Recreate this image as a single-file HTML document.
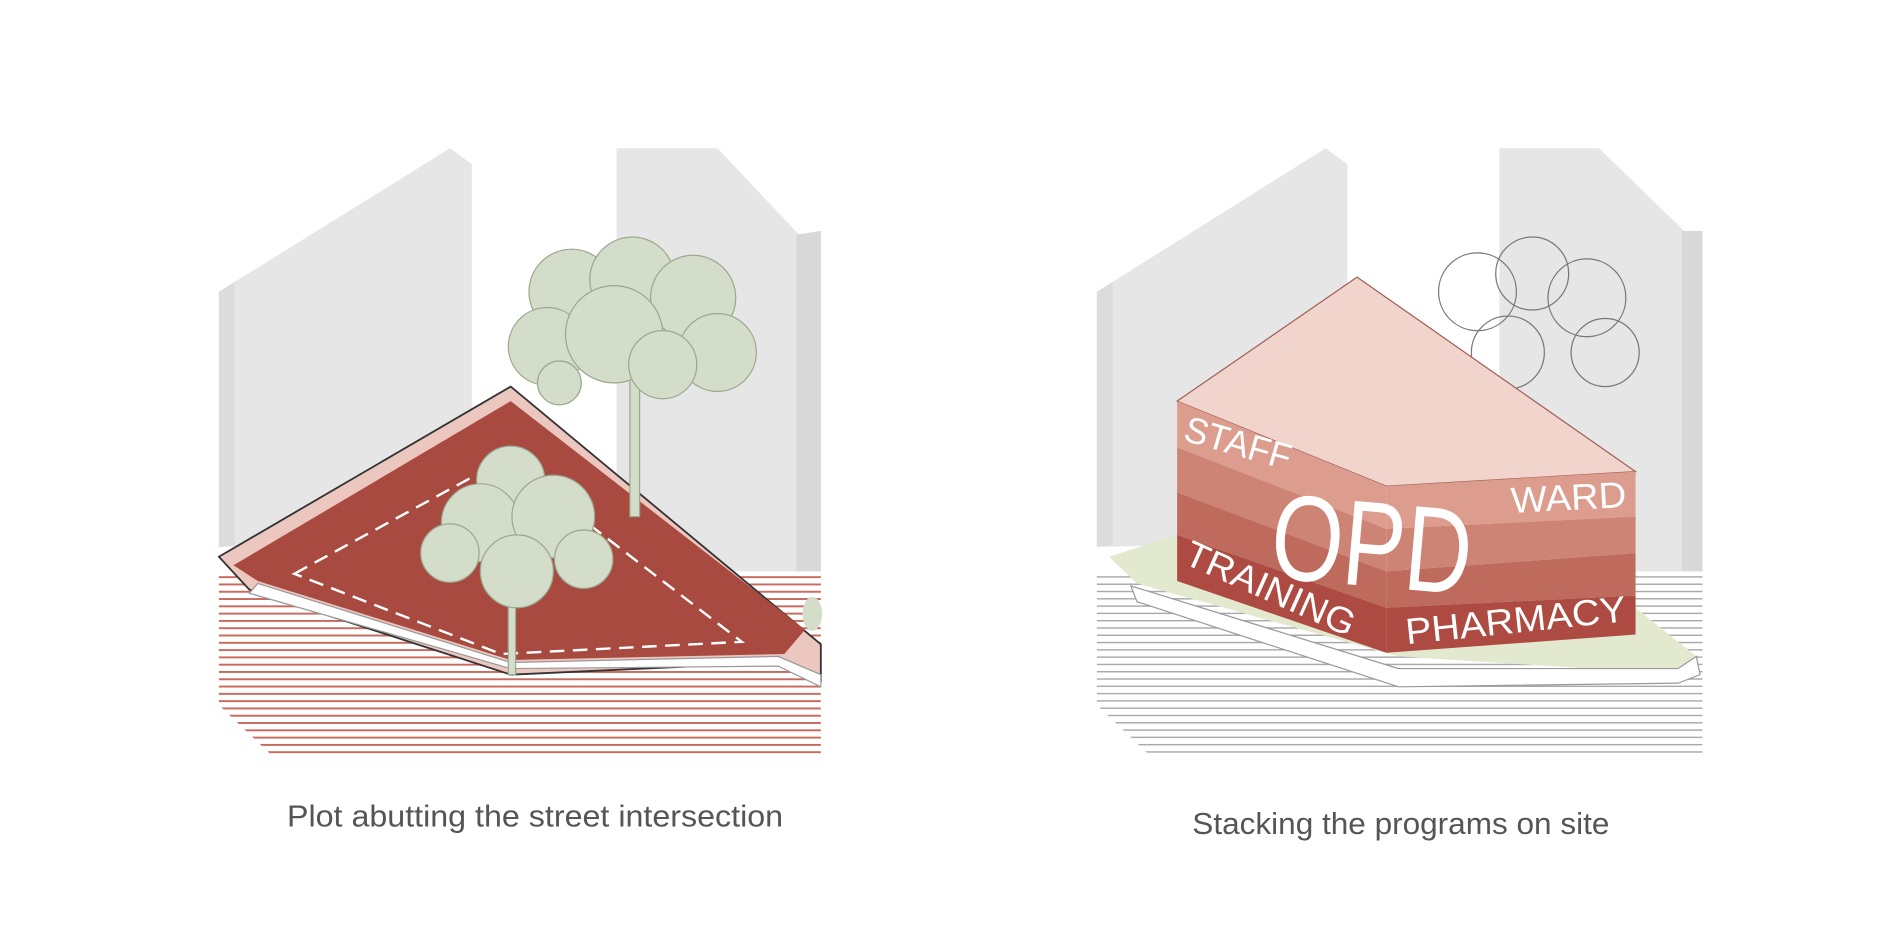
<!DOCTYPE html>
<html><head><style>
html,body{margin:0;padding:0;background:#fff;width:1897px;height:936px;overflow:hidden}
svg{display:block}
</style></head><body>
<svg width="1897" height="936" viewBox="0 0 1560 770" preserveAspectRatio="none" xmlns="http://www.w3.org/2000/svg">
<defs>
<pattern id="rl" width="10" height="6" patternUnits="userSpaceOnUse"><rect width="10" height="6" fill="#fff"/><rect y="0" width="10" height="1.6" fill="#c96a5f"/></pattern>
<pattern id="gl" width="10" height="6" patternUnits="userSpaceOnUse"><rect width="10" height="6" fill="#fff"/><rect y="0" width="10" height="1.2" fill="#aaa"/></pattern>
</defs>
<!-- LEFT PANEL -->
<polygon points="180,240 370,122 388,135 388,445 180,450" fill="#e6e6e6"/>
<polygon points="180,240 193,232 193,448 180,450" fill="#dcdcdc"/>
<polygon points="507,122 590,122 657,193 675,190 675,510 507,420" fill="#e6e6e6"/>
<polygon points="655,193 675,190 675,510 655,500" fill="#d8d8d8"/>
<polygon points="180,470 675,470 675,620 222,620 180,580" fill="url(#rl)"/>
<polygon points="180,458 420,318 675,530 675,560 640,545 420,555 235,495 205,485" fill="#ecc7bf" stroke="#333" stroke-width="1.5"/>
<polygon points="192,465 420,330 662,518 645,538 420,543 212,478" fill="#a84a40"/>
<path d="M205,488 L420,550 L640,548 L675,565 L675,555 L640,540 L420,545 L212,480 Z" fill="#fff" stroke="#999" stroke-width="1"/>
<polygon points="242,472 415,378 610,528 412,538" fill="none" stroke="#fff" stroke-width="2" stroke-dasharray="12,7"/>
<g fill="#d4dcca" stroke="#9aa88e">
<rect x="518" y="290" width="8" height="135"/>
<circle cx="470" cy="240" r="35"/><circle cx="520" cy="230" r="35"/><circle cx="570" cy="245" r="35"/>
<circle cx="450" cy="285" r="32"/><circle cx="590" cy="290" r="32"/><circle cx="505" cy="275" r="40"/>
<circle cx="545" cy="300" r="28"/><circle cx="460" cy="315" r="18"/>
<rect x="418" y="440" width="6" height="115"/>
<circle cx="420" cy="395" r="28"/><circle cx="395" cy="430" r="32"/><circle cx="455" cy="425" r="34"/>
<circle cx="370" cy="455" r="24"/><circle cx="480" cy="460" r="24"/><circle cx="425" cy="470" r="30"/>
</g>
<ellipse cx="668" cy="505" rx="8" ry="14" fill="#d4dcca"/>
<text x="440" y="680" font-family="Liberation Sans, sans-serif" font-size="25" fill="#555" text-anchor="middle" textLength="408" lengthAdjust="spacingAndGlyphs">Plot abutting the street intersection</text>
<!-- RIGHT PANEL -->
<polygon points="902,240 1090,122 1108,135 1108,445 902,450" fill="#e6e6e6"/>
<polygon points="902,240 915,232 915,448 902,450" fill="#dcdcdc"/>
<polygon points="1233,122 1315,122 1385,190 1400,190 1400,540 1233,420" fill="#e6e6e6"/>
<polygon points="1383,190 1400,190 1400,540 1383,530" fill="#d8d8d8"/>
<polygon points="902,470 1400,470 1400,620 944,620 902,580" fill="url(#gl)"/>
<polygon points="912,458 968,440 1345,500 1395,540 1385,555 1150,540 935,480" fill="#e3e9cf"/>
<path d="M930,482 L1150,550 L1380,550 L1395,540 L1398,555 L1380,562 L1150,565 L935,495 Z" fill="#fff" stroke="#999"/>
<g fill="none" stroke="#777">
<circle cx="1215" cy="240" r="32"/><circle cx="1260" cy="225" r="30"/><circle cx="1305" cy="245" r="32"/>
<circle cx="1320" cy="290" r="28"/><circle cx="1240" cy="290" r="30"/>
</g>
<polygon points="968,330 1116,228 1345,388 1140,400" fill="#f1d4cc" stroke="#a06058" stroke-width="1"/>
<polygon points="968,330 1140,400 1140,435 968,368" fill="#dc9c8e"/>
<polygon points="968,368 1140,435 1140,470 968,405" fill="#cd8475"/>
<polygon points="968,405 1140,470 1140,500 968,440" fill="#be6b5d"/>
<polygon points="968,440 1140,500 1140,537 968,478" fill="#ad4a41"/>
<polygon points="1140,400 1345,388 1345,425 1140,435" fill="#dc9c8e"/>
<polygon points="1140,435 1345,425 1345,455 1140,470" fill="#cd8475"/>
<polygon points="1140,470 1345,455 1345,490 1140,500" fill="#be6b5d"/>
<polygon points="1140,500 1345,490 1345,522 1140,537" fill="#ad4a41"/>
<g font-family="Liberation Sans, sans-serif" fill="#fff">
<text x="972" y="362" font-size="30" transform="rotate(16 972 362)" textLength="90" lengthAdjust="spacingAndGlyphs">STAFF</text>
<text x="1243" y="422" font-size="30" transform="rotate(-3 1243 422)" textLength="95" lengthAdjust="spacingAndGlyphs">WARD</text>
<text x="972" y="463" font-size="30" transform="rotate(24 972 463)" textLength="150" lengthAdjust="spacingAndGlyphs">TRAINING</text>
<text x="1157" y="530" font-size="30" transform="rotate(-6 1157 530)" textLength="182" lengthAdjust="spacingAndGlyphs">PHARMACY</text>
<text x="1043" y="475" font-size="100" transform="rotate(5 1043 475)" textLength="165" lengthAdjust="spacingAndGlyphs">OPD</text>
</g>
<text x="1152" y="686" font-family="Liberation Sans, sans-serif" font-size="25" fill="#555" text-anchor="middle" textLength="343" lengthAdjust="spacingAndGlyphs">Stacking the programs on site</text>
</svg>
</body></html>
